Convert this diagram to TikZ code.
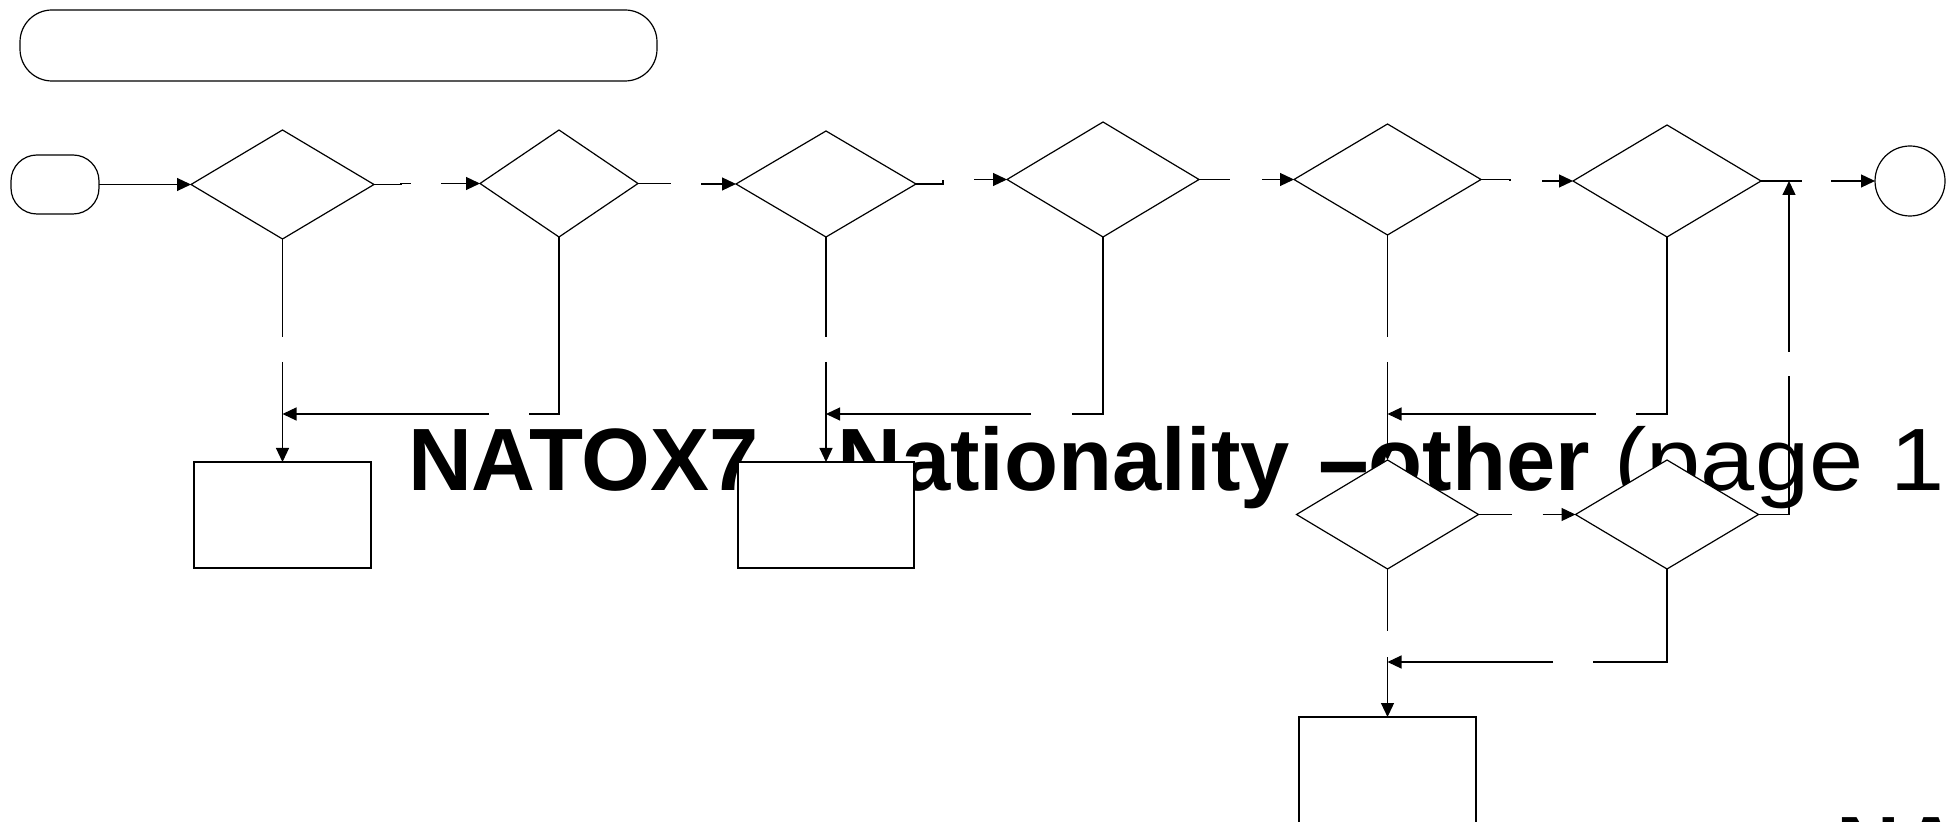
\documentclass[tikz,border=0pt]{standalone}
\usepackage{fontspec}
\setmainfont{Liberation Sans}
\usetikzlibrary{shapes.geometric,arrows.meta}
\tikzset{
  ln/.style={draw=black, line width=0.6pt},
  arr/.style={ln, -{Triangle[length=7pt,width=6.5pt]}},
  dia/.style={diamond, draw=black, line width=0.6pt, fill=white, inner sep=0pt, outer sep=0pt},
  box/.style={rectangle, draw=black, line width=0.6pt, fill=white, inner sep=0pt, outer sep=0pt},
  term/.style={rectangle, draw=black, line width=0.6pt, fill=white, inner sep=0pt, outer sep=0pt},
  endc/.style={circle, draw=black, line width=0.6pt, fill=white, inner sep=0pt, outer sep=0pt, minimum size=35pt},
  ttlstyle/.style={inner sep=0pt, outer sep=0pt, anchor=base west, font=\fontsize{44.25pt}{53pt}\selectfont}
}
\begin{document}
\begin{tikzpicture}[x=0.5pt,y=-0.5pt]
\useasboundingbox (0,0) rectangle (1946,822);
\fill[white] (0,0) rectangle (1946,822);
\clip (0,0) rectangle (1946,822);

% texts (under the shapes)
\node[ttlstyle] (ttl) at (408,491) {\bfseries NATOX7 - Nationality \scalebox{2}[1]{-}\hspace{-14.7pt} other \mdseries\scalebox{1.1}[1]{(page 1}};
\node[ttlstyle] (ttl2) at (1836,878) {\bfseries NAT};

% shapes
\node[term, minimum width=318.5pt, minimum height=35.5pt, rounded corners=16pt] (top) at (338.5,45.5) {};
\node[term, minimum width=44pt, minimum height=29.5pt, rounded corners=13pt] (S) at (55,184.5) {};
\node[dia, minimum width=91.5pt, minimum height=54.5pt] (D1) at (282.5,184.5) {};
\node[dia, minimum width=79pt, minimum height=53.5pt] (D2) at (559,183.5) {};
\node[dia, minimum width=90pt, minimum height=53pt] (D3) at (826,184) {};
\node[dia, minimum width=96pt, minimum height=57.5pt] (D4) at (1103,179.5) {};
\node[dia, minimum width=93.5pt, minimum height=55.5pt] (D5) at (1387.5,179.5) {};
\node[dia, minimum width=94pt, minimum height=56pt] (D6) at (1667,181) {};
\node[dia, minimum width=91pt, minimum height=54.5pt] (D7) at (1387.5,514.5) {};
\node[dia, minimum width=91.5pt, minimum height=54.5pt] (D8) at (1667,514.5) {};
\node[endc] (C) at (1910,181) {};
\node[box, minimum width=88.5pt, minimum height=53pt] (B1) at (282.5,515) {};
\node[box, minimum width=88pt, minimum height=53pt] (B2) at (826,515) {};
\node[box, minimum width=88.5pt, minimum height=53pt] (B3) at (1387.5,770) {};

% junction and gap coordinates
\coordinate (J1) at (282.5,414);
\coordinate (G1a) at (529,414);
\coordinate (G1b) at (489,414);
\coordinate (J2) at (826,414);
\coordinate (G2a) at (1072,414);
\coordinate (G2b) at (1031,414);
\coordinate (J3) at (1387.5,414);
\coordinate (G3a) at (1636,414);
\coordinate (G3b) at (1596,414);
\coordinate (J4) at (1387.5,662);
\coordinate (G4a) at (1593,662);
\coordinate (G4b) at (1553,662);
\coordinate (U1) at (1789,376);
\coordinate (U2) at (1789,352);
\coordinate (T) at (1789,181);

% top row connectors
\draw[arr] (S.east) -- (D1.west);
\draw[ln] (D1.east) -- ++(27,0) -- ++(0,-1) -- ++(10,0);
\draw[arr] ([xshift=-19.5pt]D2.west) -- (D2.west);
\draw[ln] (D2.east) -- ++(33,0);
\draw[arr] ([xshift=-17.5pt]D3.west) -- (D3.west);
\draw[ln] (D3.east) -- ++(27,0) -- ++(0,-4);
\draw[arr] ([xshift=-16.5pt]D4.west) -- (D4.west);
\draw[ln] (D4.east) -- ++(31,0);
\draw[arr] ([xshift=-16pt]D5.west) -- (D5.west);
\draw[ln] (D5.east) -- ++(29,0) -- ++(0,2);
\draw[arr] ([xshift=-15.5pt]D6.west) -- (D6.west);
\draw[ln] (D6.east) -- ++(41,0);
\draw[arr] ([xshift=-22pt]C.west) -- (C.west);

% second row connectors
\draw[ln] (D7.east) -- ++(33,0);
\draw[arr] ([xshift=-16.5pt]D8.west) -- (D8.west);
\draw[ln] (D8.east) -| (U1);
\draw[arr] (U2) -- (T);

% down branches
\draw[ln] (D1.south) -- ++(0,98);
\draw[arr] ([yshift=50pt]B1.north) -- (B1.north);
\draw[ln] (D2.south) |- (G1a);
\draw[arr] (G1b) -- (J1);

\draw[ln] (D3.south) -- ++(0,100);
\draw[arr] ([yshift=50pt]B2.north) -- (B2.north);
\draw[ln] (D4.south) |- (G2a);
\draw[arr] (G2b) -- (J2);

\draw[ln] (D5.south) -- ++(0,102);
\draw[arr] ([yshift=49pt]D7.north) -- (D7.north);
\draw[ln] (D6.south) |- (G3a);
\draw[arr] (G3b) -- (J3);

\draw[ln] (D7.south) -- ++(0,62);
\draw[arr] ([yshift=30pt]B3.north) -- (B3.north);
\draw[ln] (D8.south) |- (G4a);
\draw[arr] (G4b) -- (J4);
\end{tikzpicture}
\end{document}
